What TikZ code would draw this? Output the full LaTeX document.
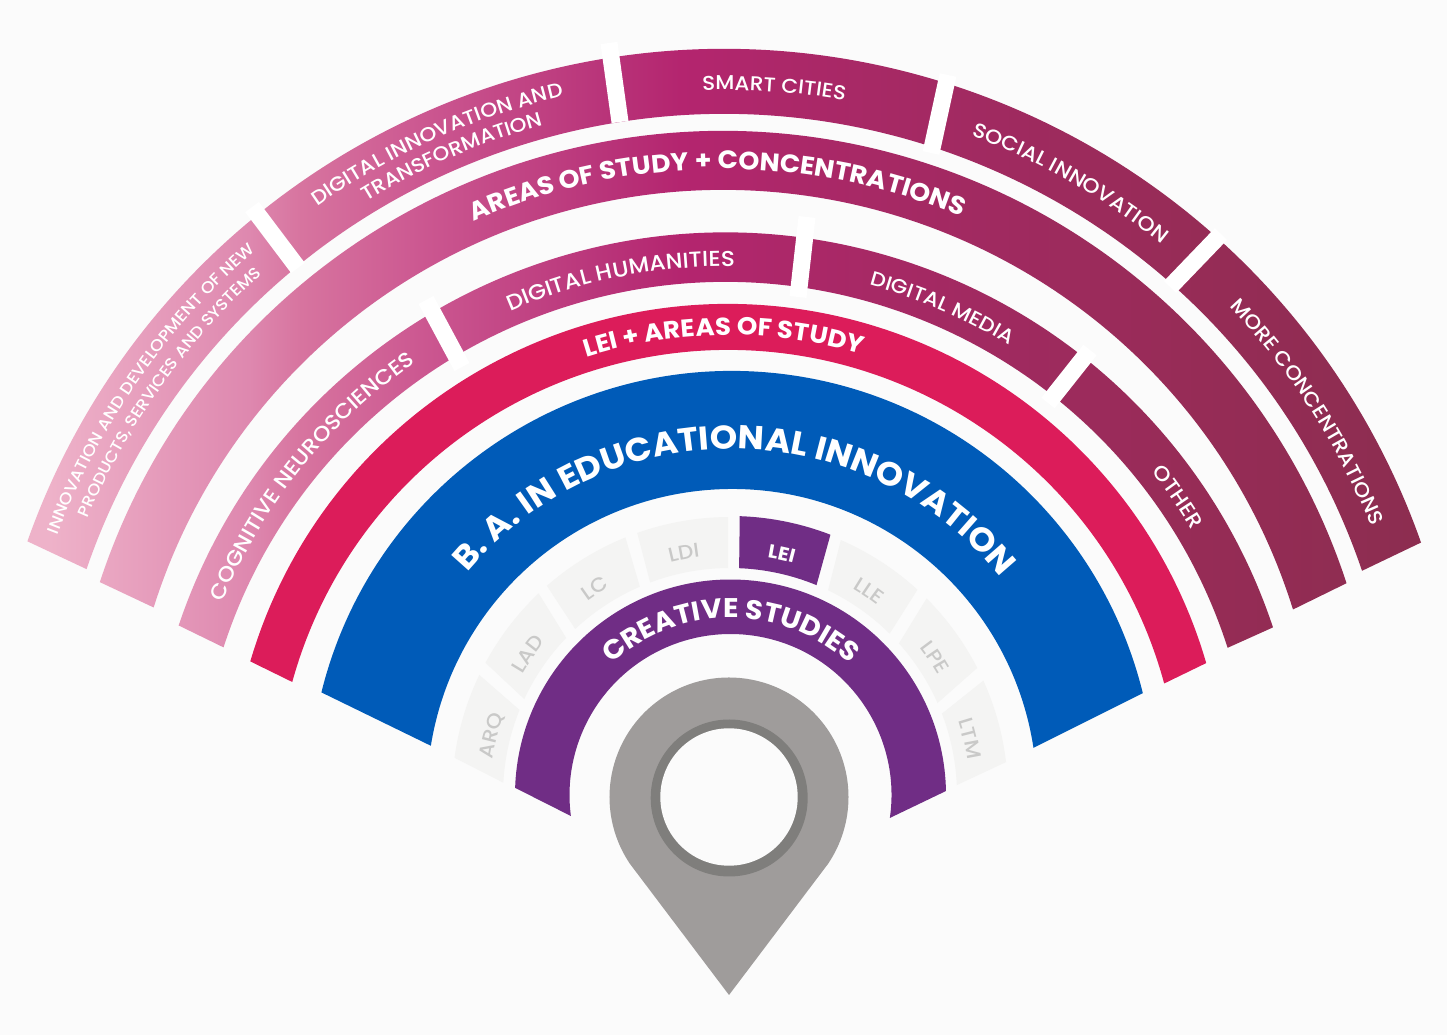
\documentclass[tikz,border=0pt]{standalone}
\usepackage{fontspec}
\setmainfont{Poppins}[FakeStretch=1.06]
\newfontfamily\medfont{Poppins Medium}[FakeStretch=1.08]
\usetikzlibrary{decorations.text}
\definecolor{page}{HTML}{FBFBFB}
\definecolor{crimson}{HTML}{DC1C5A}
\definecolor{royal}{HTML}{005BB8}
\definecolor{plum}{HTML}{702D85}
\definecolor{cell}{HTML}{F4F4F3}
\definecolor{celltext}{HTML}{C9C9C8}
\definecolor{pinbody}{HTML}{9F9C9B}
\definecolor{pinring}{HTML}{7F7E7C}
\definecolor{washa}{HTML}{EEB2C9}
\definecolor{washb}{HTML}{DE88AF}
\definecolor{washc}{HTML}{D7749F}
\definecolor{washd}{HTML}{CC5891}
\definecolor{washe}{HTML}{B9357A}
\definecolor{washf}{HTML}{B4256F}
\definecolor{washg}{HTML}{AB2868}
\definecolor{washh}{HTML}{A02A60}
\definecolor{washi}{HTML}{962C56}
\definecolor{washj}{HTML}{8C2D50}
% 0..1447 is mapped on 25bp..75bp
\pgfdeclarehorizontalshading{arcwash}{100bp}{
  color(0bp)=(washa);
  color(26.7bp)=(washa);
  color(33.6bp)=(washb);
  color(35.4bp)=(washc);
  color(39.5bp)=(washd);
  color(45.7bp)=(washe);
  color(48.5bp)=(washf);
  color(52.6bp)=(washg);
  color(59.5bp)=(washh);
  color(66.5bp)=(washi);
  color(74.1bp)=(washj);
  color(100bp)=(washj)}
\newcommand{\ringpath}[7]{[shift={(#1)}] (#4:#2) arc[start angle=#4,end angle=#5,radius=#2] -- (#7:#3) arc[start angle=#7,end angle=#6,radius=#3] -- cycle}
\newcommand{\washband}[7]{\begin{scope}\clip \ringpath{#1}{#2}{#3}{#4}{#5}{#6}{#7};
  \shade[shading=arcwash] (0,0) rectangle (1447,1035);\end{scope}}
\newcommand{\arctext}[6]{\path[decorate,decoration={text along path,text align=center,text={|#6|#1}}]
  [shift={(#2)}] (#4+10:#3) arc[start angle=#4+10,end angle=#5-10,radius=#3];}
\newcommand{\lab}[1]{\medfont\fontsize{#1}{#1}\selectfont\color{white}}
\newcommand{\labcell}{\medfont\fontsize{20}{20}\selectfont\color{celltext}}
\newcommand{\labbold}[1]{\bfseries\fontsize{#1}{#1}\selectfont\color{white}}

\begin{document}
\begin{tikzpicture}[x=1pt,y=1pt]
\useasboundingbox (0,0) rectangle (1447,1035);
\fill[page] (0,0) rectangle (1447,1035);
\coordinate (outerc) at (724,247);
\coordinate (areasc) at (723,248);
\coordinate (fieldc) at (725.5,225.5);
\coordinate (leic) at (728,233);
\coordinate (bac) at (732,241);
\coordinate (cellc) at (730,240);
\coordinate (creativec) at (730.5,240);
\coordinate (pinc) at (729,238);
% bands
\washband{outerc}{739}{674}{160.5}{19.4}{161.05}{18.8}
\washband{areasc}{656}{597}{161.8}{18.1}{162.5}{17.3}
\washband{fieldc}{577}{527.5}{161.4}{18.4}{162.1}{17.85}
\fill[crimson] \ringpath{leic}{498}{452}{163.6}{16.2}{164.6}{15.2};
\fill[royal] \ringpath{bac}{423}{305}{166.1}{13.8}{170.9}{8.7};
\fill[plum] \ringpath{creativec}{215.5}{161}{178.1}{1.06}{187.5}{-8.2};
% white gaps
\foreach \xa/\ya/\xb/\yb in {252/828/298/767,609/992/620/913,948/960/931/882,1221/801/1170/748,426/735/462/668,807/818/798/738,1090/685/1048/632}
  \draw[white,line width=17pt] (\xa,\ya) -- (\xb,\yb);
% programme cells
\foreach \oa/\ob/\ia/\ib/\name/\ta/\tb in {172.3/154.4/176.9/158/ARQ/171/160.9,151.6/133.5/155/136.2/LAD/149.3/140.8,131.2/112.1/133/113.4/LC/125.9/120.4,109.5/90.4/110.6/90.5/LDI/104.5/97.1,66.5/47.6/64.4/45.3/LLE/59.9/51.7,45/27.2/41.9/23.9/LPE/38.4/29.4,24.3/6.8/21/2.5/LTM/17.7/8.8}{
  \fill[cell] \ringpath{cellc}{278}{227}{\oa}{\ob}{\ia}{\ib};
  \expandafter\arctext\expandafter{\name}{cellc}{240}{\ta}{\tb}{\labcell}
}
\fill[plum] \ringpath{cellc}{279}{227}{88}{68.9}{87.7}{67.6};
\arctext{LEI}{cellc}{240.5}{81.4}{74.4}{\labbold{19}}
% pin
\fill[pinbody] (729,40) -- ([shift={(pinc)}]214:119.5) arc[start angle=214,end angle=-34,radius=119.5] -- cycle;
\fill[pinring] (729.2,237) circle[radius=78.5];
\fill[page] (pinc) circle[radius=68.7];
% labels
\arctext{INNOVATION AND DEVELOPMENT OF NEW}{outerc}{713}{159}{131.3}{\lab{16.3}}
\arctext{PRODUCTS, SERVICES AND SYSTEMS}{outerc}{691}{156.7}{132.3}{\lab{16}}
\arctext{DIGITAL INNOVATION AND}{outerc}{710}{125}{103}{\lab{20}}
\arctext{TRANSFORMATION}{outerc}{687}{121.3}{105.3}{\lab{19.8}}
\arctext{SMART CITIES}{outerc}{698}{91.8}{80}{\lab{20}}
\arctext{SOCIAL INNOVATION}{outerc}{698}{68.6}{51.8}{\lab{20.3}}
\arctext{MORE CONCENTRATIONS}{outerc}{698}{43.2}{22.4}{\lab{20}}
\arctext{AREAS OF STUDY + CONCENTRATIONS}{areasc}{618}{113.8}{67.3}{\labbold{25.2}}
\arctext{COGNITIVE NEUROSCIENCES}{fieldc}{544}{157.4}{124.9}{\lab{21}}
\arctext{DIGITAL HUMANITIES}{fieldc}{543}{113.2}{89.2}{\lab{21.6}}
\arctext{DIGITAL MEDIA}{fieldc}{544}{74.5}{58.7}{\lab{20}}
\arctext{OTHER}{fieldc}{544}{37.9}{31.4}{\lab{20.5}}
\arctext{LEI + AREAS OF STUDY}{leic}{467}{107.7}{73.4}{\labbold{24.6}}
\arctext{B. A. IN EDUCATIONAL INNOVATION}{bac}{345}{139.6}{39.3}{\labbold{33}}
\arctext{CREATIVE STUDIES}{creativec}{177}{131.9}{48}{\labbold{27}}
\end{tikzpicture}
\end{document}
